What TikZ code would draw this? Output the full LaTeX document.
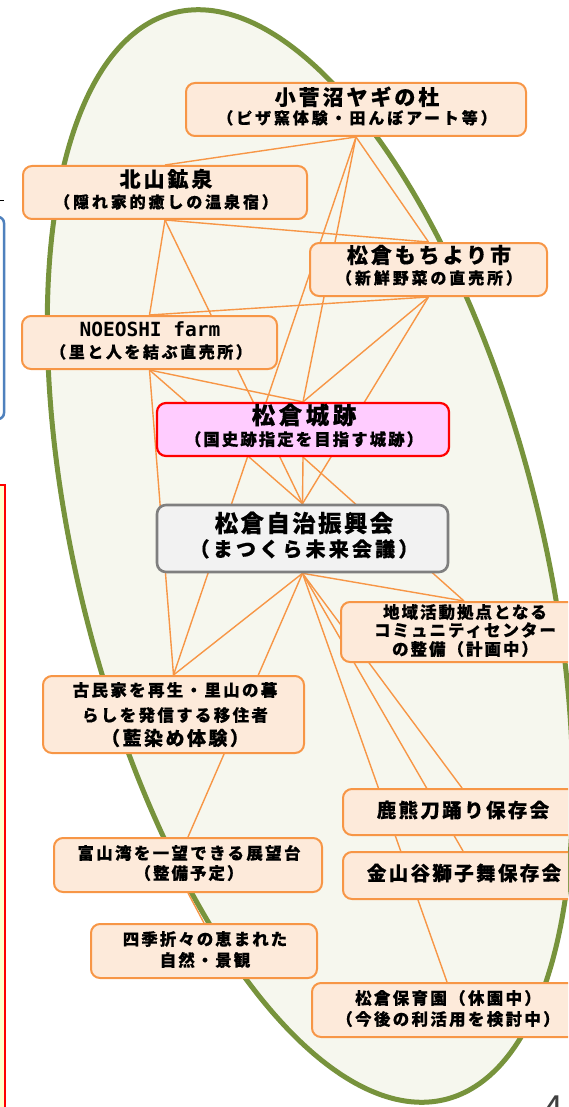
\documentclass[tikz,border=0pt]{standalone}
\usepackage{fontspec}
\newfontfamily\jp{Noto Sans CJK JP}
\newfontfamily\monof{DejaVu Sans Mono}
\pgfdeclarelayer{ellayer}
\pgfdeclarelayer{linelayer}
\pgfsetlayers{ellayer,linelayer,main}
\definecolor{ellc}{HTML}{77933C}
\definecolor{ellfill}{HTML}{F6F7EE}
\definecolor{org}{HTML}{F79646}
\definecolor{peach}{HTML}{FDEADA}
\definecolor{pinkf}{HTML}{FFCCFF}
\definecolor{gbord}{HTML}{7F7F7F}
\definecolor{gfill}{HTML}{F2F2F2}
\definecolor{blueb}{HTML}{4F81BD}
\definecolor{yel}{HTML}{FFFFCC}
\definecolor{digit}{HTML}{404040}
\newcommand\jpsz[2]{\jp\bfseries\fontsize{#1}{#1}\selectfont\addfontfeature{LetterSpace=#2,FakeBold=0.4}}
\begin{document}
\begin{tikzpicture}[x=1pt,y=-1pt,
  box/.style={draw=org, fill=peach, line width=2pt, rounded corners=9pt, inner sep=0pt, rectangle},
  redbox/.style={box, draw=red, fill=pinkf, line width=2.2pt},
  graybox/.style={box, draw=gbord, fill=gfill, line width=2.6pt},
  conn/.style={draw=org, line width=1.4pt},
  t/.style 2 args={inner sep=0pt, anchor=base, font=\jpsz{#1}{#2}}]
\useasboundingbox (0,0) rectangle (568,1107);
\clip (0,0) rectangle (568,1107);

% left edge fragments
\draw[black, line width=0.8pt] (-2,200) -- (4,200);
\draw[blueb, line width=2.5pt, rounded corners=6pt, fill=white] (-60,217) rectangle (4,419);
\draw[red, line width=2pt, fill=yel] (-60,485) rectangle (4.5,1140);

\begin{pgfonlayer}{ellayer}
\draw[ellc, line width=5pt, fill=ellfill]
  plot[domain=0:357, samples=120, smooth cycle, variable=\a]
  ({310 + 225.1*cos(\a) + 135.5*sin(\a)}, {556 - 56.1*cos(\a) + 543.4*sin(\a)});
\end{pgfonlayer}

% boxes
\node[box, minimum width=340pt, minimum height=53pt] (kosuga) at (356,109.5) {};
\node[box, minimum width=284pt, minimum height=53pt] (kitayama) at (165,192.5) {};
\node[box, minimum width=237pt, minimum height=53pt] (mochi) at (428.5,269.5) {};
\node[box, minimum width=255pt, minimum height=53pt] (noe) at (149.5,342.5) {};
\node[redbox, minimum width=292pt, minimum height=53pt] (shiro) at (303,429.5) {};
\node[graybox, minimum width=291pt, minimum height=67pt] (jichi) at (302.5,538.5) {};
\node[box, minimum width=246pt, minimum height=60pt] (chiiki) at (464,632) {};
\node[box, minimum width=261pt, minimum height=77pt] (kominka) at (173.5,714.5) {};
\node[box, minimum width=238pt, minimum height=46pt] (shikuma) at (462,812) {};
\node[box, minimum width=268pt, minimum height=54pt] (toyama) at (188,865) {};
\node[box, minimum width=240pt, minimum height=47pt] (kanayama) at (463,875.5) {};
\node[box, minimum width=226pt, minimum height=54pt] (shiki) at (204,951) {};
\node[box, minimum width=270pt, minimum height=54pt] (hoiku) at (447,1010) {};

% texts
\node[t={21}{14}] (t1a) at (357,105) {小菅沼ヤギの杜};
\node[t={16}{18}] (t1b) at (357,124) {（ピザ窯体験・田んぼアート等）};
\node[t={21}{14}] (t2a) at (166,187) {北山鉱泉};
\node[t={16}{18}] (t2b) at (166,208) {（隠れ家的癒しの温泉宿）};
\node[t={21}{14}] (t3a) at (429,263) {松倉もちより市};
\node[t={16}{18}] (t3b) at (429,284) {（新鮮野菜の直売所）};
\node[inner sep=0pt, anchor=base, font=\monof\bfseries\fontsize{19.5}{19.5}\selectfont] (t4a) at (150,336) {NOEOSHI farm};
\node[t={16}{16}] (t4b) at (151,358) {（里と人を結ぶ直売所）};
\node[t={23.5}{15}] (t5a) at (304,424) {松倉城跡};
\node[t={16.5}{12}] (t5b) at (304,445.5) {（国史跡指定を目指す城跡）};
\node[t={23.5}{10}] (t6a) at (304,532) {松倉自治振興会};
\node[t={20}{16}] (t6b) at (304,556.5) {（まつくら未来会議）};
\node[t={16.5}{12}] (t7a) at (465,618.3) {地域活動拠点となる};
\node[t={16.5}{12}] (t7b) at (465,636.3) {コミュニティセンター};
\node[t={16.5}{12}] (t7c) at (465,655.3) {の整備（計画中）};
\node[t={16.5}{14}] (t8a) at (175,696.3) {古民家を再生・里山の暮};
\node[t={16.5}{14}] (t8b) at (175,721.3) {らしを発信する移住者};
\node[t={19}{13}] (t8c) at (175,745.2) {（藍染め体験）};
\node[t={19.5}{12}] (t9) at (463,817.4) {鹿熊刀踊り保存会};
\node[t={16.5}{14}] (t10a) at (189,859.3) {富山湾を一望できる展望台};
\node[t={16.5}{12}] (t10b) at (189,879.3) {（整備予定）};
\node[t={19.5}{12}] (t11) at (464,880.4) {金山谷獅子舞保存会};
\node[t={16.5}{12}] (t12a) at (205,945.3) {四季折々の恵まれた};
\node[t={16.5}{12}] (t12b) at (205,966.3) {自然・景観};
\node[t={16.5}{14}] (t13a) at (448,1004.3) {松倉保育園（休園中）};
\node[t={16.5}{14}] (t13b) at (448,1025.3) {（今後の利活用を検討中）};

\node[inner sep=0pt, anchor=base, text=digit, font=\jp\fontsize{36}{36}\selectfont] (pageno) at (553,1121) {4};

% connectors
\begin{pgfonlayer}{linelayer}
\draw[conn] (kosuga.south) -- (kitayama.north);
\draw[conn] (kosuga.south) -- (mochi.north);
\draw[conn] (kosuga.south) -- (shiro.north);
\draw[conn] (kosuga.south) -- (kominka.north);
\draw[conn] (kitayama.south) -- (mochi.north);
\draw[conn] (kitayama.south) -- (noe.north);
\draw[conn] (kitayama.south) -- (jichi.north);
\draw[conn] (mochi.south) -- (noe.north);
\draw[conn] (mochi.south) -- (shiro.north);
\draw[conn] (mochi.south) -- (jichi.north);
\draw[conn] (noe.south) -- (shiro.north);
\draw[conn] (noe.south) -- (jichi.north);
\draw[conn] (noe.south) -- (kominka.north);
\draw[conn] (shiro.south) -- (jichi.north);
\draw[conn] (shiro.south) -- (chiiki.north);
\draw[conn] (jichi.south) -- (chiiki.north);
\draw[conn] (jichi.south) -- (kominka.north);
\draw[conn] (jichi.south) -- (toyama.north);
\draw[conn] (jichi.south) -- (shikuma.north);
\draw[conn] (jichi.south) -- (kanayama.north);
\draw[conn] (jichi.south) -- (hoiku.north);
\draw[conn] (toyama.south) -- (shiki.north);
\end{pgfonlayer}
\end{tikzpicture}
\end{document}
